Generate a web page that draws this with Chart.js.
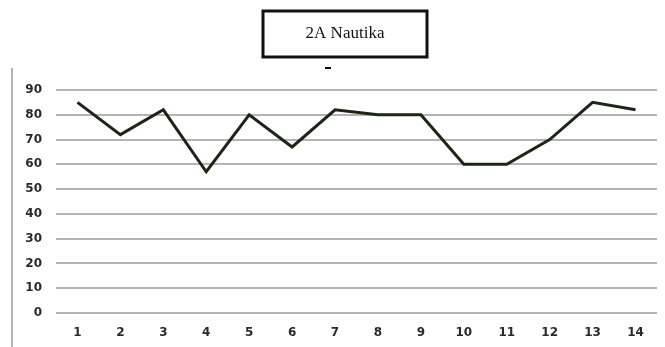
<!DOCTYPE html>
<html>
<head>
<meta charset="utf-8">
<script src="https://cdn.jsdelivr.net/npm/chart.js@4/dist/chart.umd.min.js"></script>
<style>
  body { margin: 0; background: #fff; }
  canvas { display: block; }
</style>
</head>
<body>
<canvas id="chart" width="665" height="347"></canvas>
<script>
// Chart data
const categories = ['1', '2', '3', '4', '5', '6', '7', '8', '9', '10', '11', '12', '13', '14'];
const scores = [85, 72, 82, 57, 80, 67, 82, 80, 80, 60, 60, 70, 85, 82];
const titleText = '2A Nautika';

/**
 * Draws the boxed title, the small dash and the left frame line
 */
const decorations = {
    id: 'decorations',
    afterDraw(chart) {
        const ctx = chart.ctx;
        ctx.save();

        // left frame line
        ctx.strokeStyle = '#9a9a9a';
        ctx.lineWidth = 1.5;
        ctx.beginPath();
        ctx.moveTo(12, 68);
        ctx.lineTo(12, 347);
        ctx.stroke();

        // title box
        ctx.strokeStyle = '#111';
        ctx.lineWidth = 3;
        ctx.strokeRect(263, 11, 164, 46);
        ctx.fillStyle = '#111';
        ctx.font = '17px "Liberation Serif", serif';
        ctx.textAlign = 'center';
        ctx.textBaseline = 'middle';
        ctx.fillText(titleText, 345, 34);

        // small dash under the box
        ctx.fillRect(325, 67, 6, 2);
        ctx.restore();
    }
};

const tickFont = { family: 'DejaVu Sans', size: 12, weight: 'bold' };

document.addEventListener('DOMContentLoaded', function() {
    const ctx = document.getElementById('chart').getContext('2d');
    new Chart(ctx, {
        type: 'line',
        data: {
            labels: categories,
            datasets: [{
                data: scores,
                borderColor: '#1b2616',
                borderWidth: 3,
                pointRadius: 0,
                tension: 0,
                fill: false
            }]
        },
        options: {
            responsive: false,
            animation: false,
            layout: { padding: { left: 0, right: 8, top: 90, bottom: 0 } },
            plugins: {
                legend: { display: false },
                tooltip: { enabled: false }
            },
            scales: {
                x: {
                    offset: true,
                    grid: { display: false, drawTicks: false },
                    border: { display: false },
                    ticks: { color: '#2a2a2a', padding: 13, font: tickFont },
                    afterFit(scale) { scale.height = 34; }
                },
                y: {
                    min: 0,
                    max: 90,
                    ticks: { stepSize: 10, color: '#2a2a2a', padding: 14, font: tickFont },
                    grid: { color: '#b4b4b4', lineWidth: 2, drawTicks: false },
                    border: { display: false },
                    afterFit(scale) { scale.width = 56; }
                }
            }
        },
        plugins: [decorations]
    });
});
</script>
</body>
</html>
